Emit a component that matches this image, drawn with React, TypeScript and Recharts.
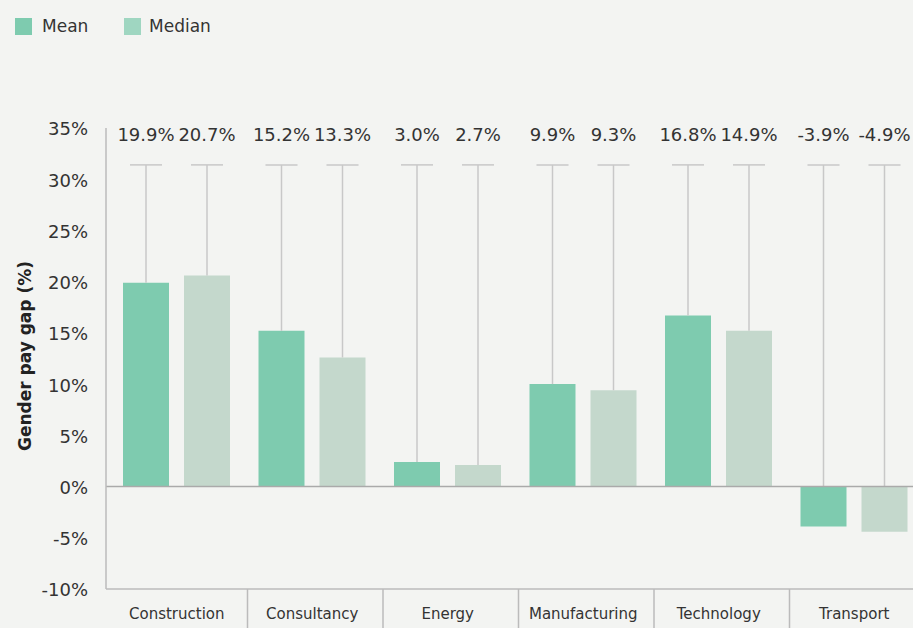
import React from 'react';
import { BarChart, Bar, XAxis, YAxis, ReferenceLine, LabelList } from 'recharts';

// industries along the x axis
const categories = ['Construction', 'Consultancy', 'Energy', 'Manufacturing', 'Technology', 'Transport'];
// bar heights
const meanValues = [19.9, 15.2, 2.4, 10.0, 16.7, -3.9];
const medianValues = [20.6, 12.6, 2.1, 9.4, 15.2, -4.4];
// printed labels above each bar
const meanLabels = [19.9, 15.2, 3.0, 9.9, 16.8, -3.9];
const medianLabels = [20.7, 13.3, 2.7, 9.3, 14.9, -4.9];
// top of the grey whiskers
const whiskerTop = 31.4;
const yTicks = [-10, -5, 0, 5, 10, 15, 20, 25, 30, 35];

const data = categories.map((name, i) => ({
  name,
  mean: meanValues[i],
  median: medianValues[i],
  meanWhisker: whiskerTop - Math.max(meanValues[i], 0),
  medianWhisker: whiskerTop - Math.max(medianValues[i], 0),
  meanLabel: meanLabels[i],
  medianLabel: medianLabels[i],
}));

const colors = {
  bg: '#f3f4f2',
  text: '#333',
  mean: '#7ecbaf',
  median: '#c4d8cc',
  medianLegend: '#9fd6c1',
  whisker: '#c8c8c8',
  axis: '#bbbbbb',
  zero: '#aaaaaa',
};

const FONT = '"DejaVu Sans", sans-serif';
const CHART_W = 922;
const CHART_H = 628;
const Y_W = 106;
const PAD_LEFT = 3;
const BAND = (CHART_W - Y_W - PAD_LEFT) / categories.length;

const Whisker = (props: any) => {
  const { x, y, width, height } = props;
  const cx = x + width / 2;
  return (
    <g>
      <line x1={cx} x2={cx} y1={y} y2={y + height} stroke={colors.whisker} strokeWidth={1.5} />
      <line x1={cx - 16} x2={cx + 16} y1={y} y2={y} stroke={colors.whisker} strokeWidth={1.5} />
    </g>
  );
};

const CategoryTick = (props: any) => {
  const { x, y, payload } = props;
  const edge = x + BAND / 2 + PAD_LEFT;
  return (
    <g>
      <line x1={edge} x2={edge} y1={y} y2={y + 40} stroke={colors.axis} strokeWidth={1.5} />
      <text x={x} y={y + 30} textAnchor="middle" fill={colors.text} fontSize={15} fontFamily={FONT}>
        {payload.value}
      </text>
    </g>
  );
};

const fmt = (v: any) => `${Number(v).toFixed(1)}%`;

export default function App() {
  return (
    <div style={{ position: 'relative', width: 913, height: 628, overflow: 'hidden', background: colors.bg, fontFamily: FONT }}>
      <style>{'body{margin:0}'}</style>

      <div style={{ position: 'absolute', top: 16, left: 15, display: 'flex', alignItems: 'center', fontSize: 17, color: colors.text, zIndex: 2 }}>
        <span style={{ width: 17, height: 17, background: colors.mean, display: 'inline-block' }} />
        <span style={{ marginLeft: 10, width: 82 }}>Mean</span>
        <span style={{ width: 17, height: 17, background: colors.medianLegend, display: 'inline-block' }} />
        <span style={{ marginLeft: 8 }}>Median</span>
      </div>

      <BarChart
        width={CHART_W}
        height={CHART_H}
        data={data}
        stackOffset="sign"
        barSize={46}
        barGap={15}
        margin={{ top: 128, right: 0, bottom: 0, left: 0 }}
      >
        <XAxis
          dataKey="name"
          height={39}
          padding={{ left: PAD_LEFT, right: 0 }}
          axisLine={{ stroke: colors.axis, strokeWidth: 1.5 }}
          tickLine={false}
          tickSize={0}
          tickMargin={0}
          tick={<CategoryTick />}
          interval={0}
        />
        <YAxis
          width={Y_W}
          domain={[-10, 35]}
          ticks={yTicks}
          allowDataOverflow
          axisLine={{ stroke: colors.axis, strokeWidth: 1.5 }}
          tickLine={false}
          tickSize={0}
          tickMargin={18}
          tickFormatter={(v) => `${v}%`}
          tick={{ fill: colors.text, fontSize: 18, fontFamily: FONT, dy: 1 }}
          label={{
            content: () => (
              <text
                x={25}
                y={356}
                transform="rotate(-90, 25, 356)"
                textAnchor="middle"
                dominantBaseline="central"
                fill="#222"
                fontSize={17}
                fontWeight="bold"
                fontFamily={FONT}
              >
                Gender pay gap (%)
              </text>
            ),
          }}
        />
        <Bar dataKey="mean" stackId="mean" fill={colors.mean} isAnimationActive={false} />
        <Bar dataKey="meanWhisker" stackId="mean" shape={<Whisker />} isAnimationActive={false}>
          <LabelList dataKey="meanLabel" position="top" offset={24} formatter={fmt} fill={colors.text} fontSize={18} fontFamily={FONT} />
        </Bar>
        <Bar dataKey="median" stackId="median" fill={colors.median} isAnimationActive={false} />
        <Bar dataKey="medianWhisker" stackId="median" shape={<Whisker />} isAnimationActive={false}>
          <LabelList dataKey="medianLabel" position="top" offset={24} formatter={fmt} fill={colors.text} fontSize={18} fontFamily={FONT} />
        </Bar>
        <ReferenceLine y={0} stroke={colors.zero} strokeWidth={1.5} />
      </BarChart>
    </div>
  );
}
